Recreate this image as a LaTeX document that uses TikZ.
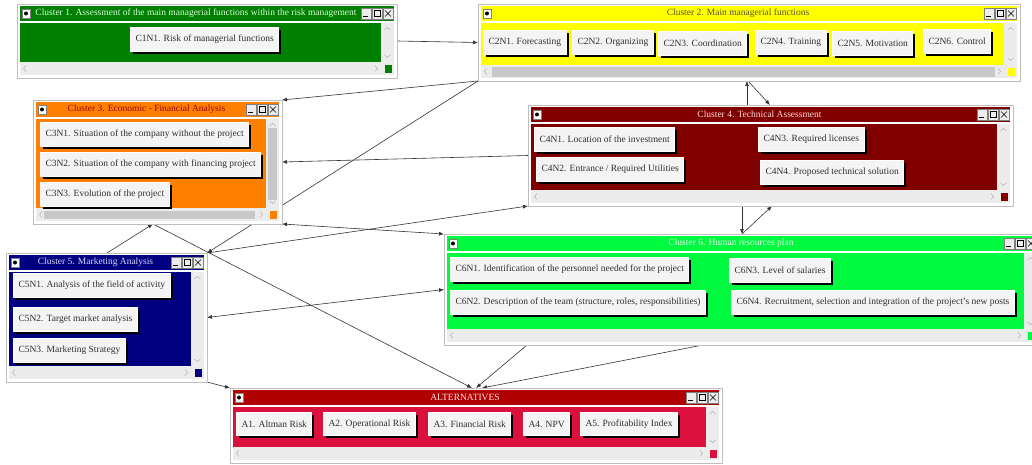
\documentclass[tikz,border=0pt]{standalone}
\usepackage{fontspec}
\setmainfont{Liberation Serif}
\usetikzlibrary{arrows.meta,calc,shadows,backgrounds}
\definecolor{cgreen}{RGB}{0,128,0}
\definecolor{cyellow}{RGB}{255,255,0}
\definecolor{corange}{RGB}{255,128,0}
\definecolor{cmaroon}{RGB}{128,0,0}
\definecolor{cnavy}{RGB}{0,0,128}
\definecolor{clime}{RGB}{0,250,64}
\definecolor{cred}{RGB}{176,0,0}
\definecolor{ccrimson}{RGB}{220,16,60}
\definecolor{scrl}{RGB}{236,236,236}
\definecolor{thumb}{RGB}{200,200,200}
\definecolor{winedge}{RGB}{190,190,190}
\definecolor{nodebg}{RGB}{244,244,244}
\definecolor{nodetxt}{RGB}{50,45,45}

% cluster window: name, x1, y1, x2, y2, bar colour, body colour, title colour, title
\newcommand{\clwin}[9]{%
  \node[winframe, minimum width={#4-#2}, minimum height={#5-#3}] (#1) at (#2,#3) {};
  \fill[#6] ({#2+3},{#3+2}) rectangle ({#4-3},{#3+17});
  \fill[#7] ({#2+3},{#3+19}) rectangle ({#4-16},{#5-16});
  \fill[scrl] ({#4-16},{#3+19}) rectangle ({#4-3},{#5-16});
  \fill[scrl] ({#2+3},{#5-16}) rectangle ({#4-3},{#5-3});
  \fill[#7] ({#4-12},{#5-13}) rectangle ({#4-5},{#5-5});
  \draw[gray!70] ({#2+9},{#5-12.5}) -- ({#2+6.5},{#5-9.5}) -- ({#2+9},{#5-6.5});
  \draw[gray!70] ({#4-22},{#5-12.5}) -- ({#4-19.5},{#5-9.5}) -- ({#4-22},{#5-6.5});
  \draw[gray!70] ({#4-12.5},{#3+26}) -- ({#4-9.5},{#3+23.5}) -- ({#4-6.5},{#3+26});
  \draw[gray!70] ({#4-12.5},{#5-23}) -- ({#4-9.5},{#5-20.5}) -- ({#4-6.5},{#5-23});
  \filldraw[fill=white, draw=gray] ({#2+5},{#3+5}) rectangle ({#2+13},{#3+14});
  \fill[black] ({#2+9},{#3+9.5}) circle (2);
  \filldraw[fill=scrl, draw=gray] ({#4-36},{#3+4}) rectangle ({#4-26},{#3+15});
  \draw[thick] ({#4-34},{#3+12.5}) -- ({#4-29},{#3+12.5});
  \filldraw[fill=scrl, draw=gray] ({#4-25},{#3+4}) rectangle ({#4-15},{#3+15});
  \draw ({#4-23},{#3+6.5}) rectangle ({#4-17},{#3+12.5});
  \filldraw[fill=scrl, draw=gray] ({#4-14},{#3+4}) rectangle ({#4-4},{#3+15});
  \draw ({#4-12},{#3+6.5}) -- ({#4-6},{#3+12.5}) ({#4-12},{#3+12.5}) -- ({#4-6},{#3+6.5});
  \node[wintitle, text=#8] (#1t) at ({(#2+#4)/2-11},{#3+9.5}) {#9};
}

\begin{document}
\begin{tikzpicture}[x=1pt, y=-1pt,
    winframe/.style={draw=winedge, fill=white, line width=0.8pt, anchor=north west,
                     inner sep=0pt, outer sep=0pt},
    wintitle/.style={font=\fontsize{9.5}{10}\selectfont, inner sep=0pt},
    cnode/.style={anchor=north west, fill=nodebg, draw=white, line width=1pt, text=nodetxt,
                  font=\fontsize{9.5}{10}\selectfont, inner xsep=5pt, inner ysep=0pt,
                  minimum height=24pt,
                  drop shadow={shadow xshift=2.5pt, shadow yshift=-2.5pt, fill=black, opacity=1}},
    lnk/.style={draw=black!80, line width=0.6pt, -{Latex[length=5pt,width=4pt]}},
    lnkb/.style={lnk, {Latex[length=5pt,width=4pt]}-{Latex[length=5pt,width=4pt]}}
]
\useasboundingbox (0,0) rectangle (1032,465);
\clip (0,0) rectangle (1032,465);

% cluster 1
\clwin{c1}{17}{4}{397}{78}{cgreen}{cgreen}{green!15}{Cluster 1. Assessment of the main managerial functions within the risk management}
\node[cnode] (c1n1) at (130,27) {C1N1. Risk of managerial functions};

% cluster 2
\clwin{c2}{478}{4}{1020}{81}{cyellow}{cyellow}{olive!50!black}{Cluster 2. Main managerial functions}
\fill[thumb] (492,67) rectangle (995,77);
\node[cnode] (c2n1) at (483,30) {C2N1. Forecasting};
\node[cnode] (c2n2) at (572,30) {C2N2. Organizing};
\node[cnode] (c2n3) at (658,31) {C2N3. Coordination};
\node[cnode] (c2n4) at (755,30) {C2N4. Training};
\node[cnode] (c2n5) at (832,31) {C2N5. Motivation};
\node[cnode] (c2n6) at (923,29) {C2N6. Control};

% cluster 3
\clwin{c3}{33}{100}{282}{224}{corange}{corange}{red!60!black}{Cluster 3. Economic - Financial Analysis}
\fill[thumb] (268,128) rectangle (277,200);
\fill[thumb] (44,211) rectangle (255,219);
\node[cnode] (c3n1) at (40,122) {C3N1. Situation of the company without the project};
\node[cnode] (c3n2) at (40,152) {C3N2. Situation of the company with financing project};
\node[cnode] (c3n3) at (40,182) {C3N3. Evolution of the project};

% cluster 4
\clwin{c4}{528}{105}{1013}{206}{cmaroon}{cmaroon}{red!15}{Cluster 4. Technical Assessment}
\node[cnode] (c4n1) at (534,127) {C4N1. Location of the investment};
\node[cnode] (c4n2) at (536,157) {C4N2. Entrance / Required Utilities};
\node[cnode] (c4n3) at (758,127) {C4N3. Required licenses};
\node[cnode] (c4n4) at (760,160) {C4N4. Proposed technical solution};

% cluster 5
\clwin{c5}{6}{253}{207}{382}{cnavy}{cnavy}{blue!15}{Cluster 5. Marketing Analysis}
\node[cnode] (c5n1) at (13,273) {C5N1. Analysis of the field of activity};
\node[cnode] (c5n2) at (13,307) {C5N2. Target market analysis};
\node[cnode] (c5n3) at (13,338) {C5N3. Marketing Strategy};

% cluster 6
\clwin{c6}{444}{234}{1040}{345}{clime}{clime}{green!8}{Cluster 6. Human resources plan}
\node[cnode] (c6n1) at (450,257) {C6N1. Identification of the personnel needed for the project};
\node[cnode] (c6n2) at (450,290) {C6N2. Description of the team (structure, roles, responsibilities)};
\node[cnode] (c6n3) at (729,258) {C6N3. Level of salaries};
\node[cnode] (c6n4) at (731,290) {C6N4. Recruitment, selection and integration of the project's new posts};

% alternatives
\clwin{alt}{230}{388}{722}{463}{cred}{ccrimson}{red!10}{ALTERNATIVES}
\node[cnode, minimum height=23pt] (a1) at (236,412) {A1. Altman Risk};
\node[cnode, minimum height=23pt] (a2) at (323,412) {A2. Operational Risk};
\node[cnode, minimum height=23pt] (a3) at (428,412) {A3. Financial Risk};
\node[cnode, minimum height=23pt] (a4) at (523,412) {A4. NPV};
\node[cnode, minimum height=23pt] (a5) at (580,412) {A5. Profitability Index};

% links between clusters
\begin{pgfonlayer}{background}
\fill[white] (0,0) rectangle (1032,465);
\draw[lnk] (c1.east) -- (c2.west);
\draw[lnk] (c2.south west) -- (c3.north east);
\draw[lnk] (c2.south west) -- (c5.north east);
\draw[lnk] ($(c2.south west)+(270,0)$) -- ($(c4.north west)+(242,0)$);
\draw[lnk] ($(c4.north west)+(219,0)$) -- ($(c2.south west)+(269,0)$);
\draw[lnk] (c4.west) -- (c3.east);
\draw[lnk] (c5.north east) -- (c4.south west);
\draw[lnkb] (c3.south east) -- (c6.north west);
\draw[lnkb] (c6.west) -- (c5.east);
\draw[lnk] ($(c4.south west)+(214,0)$) -- ($(c6.north west)+(298,0)$);
\draw[lnk] ($(c6.north west)+(298,0)$) -- ($(c4.south west)+(244,0)$);
\draw[lnk] ($(c5.north west)+(101,0)$) -- ($(c3.south west)+(120,0)$);
\draw[lnk] ($(c3.south west)+(120,0)$) -- ($(alt.north west)+(242,0)$);
\draw[lnk] ($(c6.south west)+(83,0)$) -- ($(alt.north west)+(246,0)$);
\draw[lnk] ($(c6.south west)+(259,0)$) -- ($(alt.north west)+(252,0)$);
\draw[lnk] (c5.south east) -- (alt.north west);
\end{pgfonlayer}
\end{tikzpicture}
\end{document}
